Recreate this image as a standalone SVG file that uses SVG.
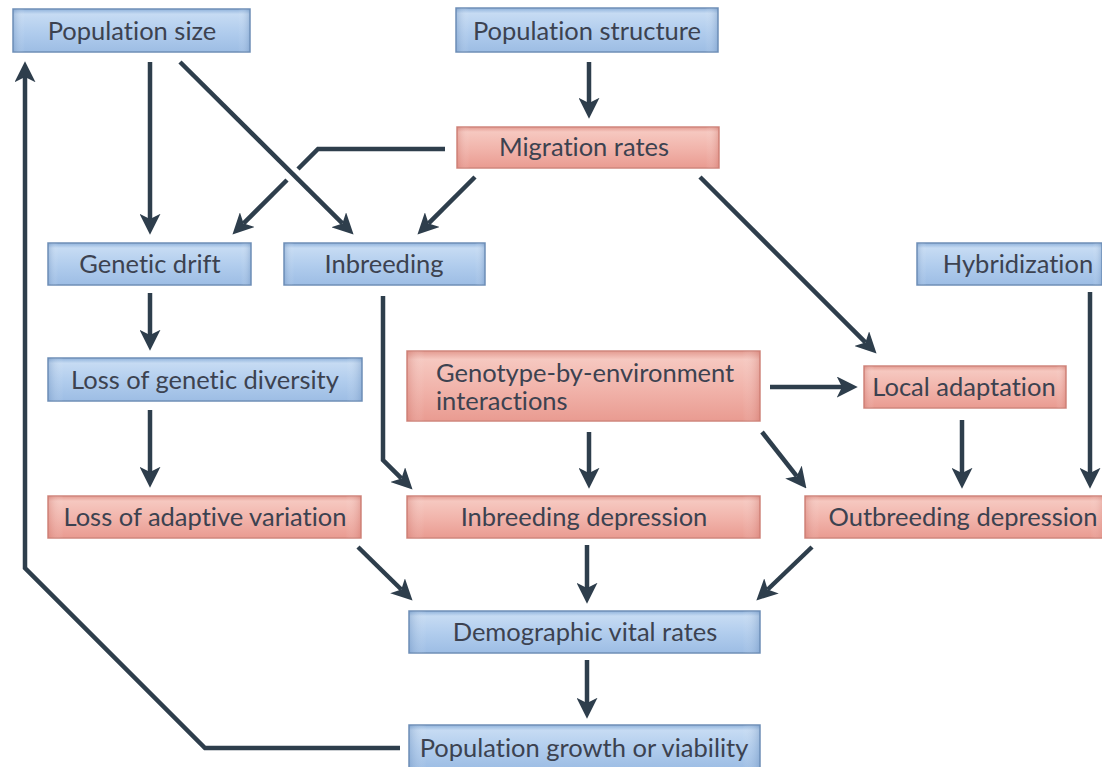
<svg xmlns="http://www.w3.org/2000/svg" width="1102" height="767" viewBox="0 0 1102 767">
<defs>
  <linearGradient id="gBlue" x1="0" y1="0" x2="0" y2="1">
    <stop offset="0" stop-color="#8fb2db"/>
    <stop offset="0.12" stop-color="#c6dbf3"/>
    <stop offset="0.55" stop-color="#b0cced"/>
    <stop offset="1" stop-color="#9dbde4"/>
  </linearGradient>
  <linearGradient id="gBlueH" x1="0" y1="0" x2="1" y2="0">
    <stop offset="0" stop-color="#5f85b5" stop-opacity="0.35"/>
    <stop offset="0.05" stop-color="#ffffff" stop-opacity="0"/>
    <stop offset="0.95" stop-color="#ffffff" stop-opacity="0"/>
    <stop offset="1" stop-color="#5f85b5" stop-opacity="0.35"/>
  </linearGradient>
  <linearGradient id="gPink" x1="0" y1="0" x2="0" y2="1">
    <stop offset="0" stop-color="#e39a90"/>
    <stop offset="0.12" stop-color="#f6c8c0"/>
    <stop offset="0.55" stop-color="#f1b3aa"/>
    <stop offset="1" stop-color="#e99b91"/>
  </linearGradient>
  <linearGradient id="gPinkH" x1="0" y1="0" x2="1" y2="0">
    <stop offset="0" stop-color="#c96a60" stop-opacity="0.35"/>
    <stop offset="0.05" stop-color="#ffffff" stop-opacity="0"/>
    <stop offset="0.95" stop-color="#ffffff" stop-opacity="0"/>
    <stop offset="1" stop-color="#c96a60" stop-opacity="0.35"/>
  </linearGradient>
  <marker id="ah" viewBox="0 0 20 20" markerWidth="21" markerHeight="21" markerUnits="userSpaceOnUse" refX="5" refY="10" orient="auto">
    <path d="M0,0 L20,10 L0,20 L5,10 z" fill="#2e3e4c"/>
  </marker>
</defs>
<style>
  .blue { fill: url(#gBlue); stroke: #6f8fb6; stroke-width: 1.5; }
  .blueH { fill: url(#gBlueH); stroke: none; }
  .pink { fill: url(#gPink); stroke: #cf877d; stroke-width: 1.5; }
  .pinkH { fill: url(#gPinkH); stroke: none; }
  text { font-family: Lato, "Open Sans", "Liberation Sans", sans-serif; font-size: 25.5px; fill: #3c4250; font-variant-ligatures: none; }
  .c { text-anchor: middle; }
  .ln { fill: none; stroke: #2e3e4c; stroke-width: 4.5; stroke-linejoin: miter; }
  .arr { marker-end: url(#ah); }
</style>
<rect width="1102" height="767" fill="#ffffff"/>

<g id="connectors">
  <path class="ln arr" d="M150,62 L150,219"/>
  <path class="ln" d="M445,149 L318,149 L298,169"/>
  <path class="ln arr" d="M287,180 L243.6,223.4"/>
  <path class="ln arr" d="M180,62 L342.4,223.4"/>
  <path class="ln arr" d="M589,62 L589,103"/>
  <path class="ln arr" d="M475,177 L428.6,223.4"/>
  <path class="ln arr" d="M700,177 L865.4,342.4"/>
  <path class="ln arr" d="M150,293 L150,335"/>
  <path class="ln arr" d="M150,410 L150,472"/>
  <path class="ln arr" d="M383,296 L383,460 L401.4,478.4"/>
  <path class="ln arr" d="M589,432 L589,473"/>
  <path class="ln arr" d="M762,432 L796.7,476.2"/>
  <path class="ln arr" d="M770,387 L842,387"/>
  <path class="ln arr" d="M962,420 L962,473"/>
  <path class="ln arr" d="M1090,292 L1090,473"/>
  <path class="ln arr" d="M358,547 L401.3,589.5"/>
  <path class="ln arr" d="M587,545 L587,588"/>
  <path class="ln arr" d="M812,547 L767.7,589.5"/>
  <path class="ln arr" d="M587,660 L587,703"/>
  <path class="ln arr" d="M400,748 L205,748 L25,568 L25,77"/>
</g>

<g id="n-popsize">
  <rect class="blue" x="13" y="9" width="237" height="43"/><rect class="blueH" x="13" y="9" width="237" height="43"/>
  <text class="c" x="132" y="40">Population size</text>
</g>
<g id="n-popstructure">
  <rect class="blue" x="456" y="8" width="262" height="44"/><rect class="blueH" x="456" y="8" width="262" height="44"/>
  <text class="c" x="587" y="40">Population structure</text>
</g>
<g id="n-migration">
  <rect class="pink" x="457" y="127" width="262" height="41"/><rect class="pinkH" x="457" y="127" width="262" height="41"/>
  <text class="c" x="584" y="156">Migration rates</text>
</g>
<g id="n-drift">
  <rect class="blue" x="48" y="243" width="203" height="42"/><rect class="blueH" x="48" y="243" width="203" height="42"/>
  <text class="c" x="150" y="273">Genetic drift</text>
</g>
<g id="n-inbreeding">
  <rect class="blue" x="284" y="243" width="201" height="42"/><rect class="blueH" x="284" y="243" width="201" height="42"/>
  <text class="c" x="384" y="273">Inbreeding</text>
</g>
<g id="n-hybridization">
  <rect class="blue" x="917" y="243" width="185" height="42"/><rect class="blueH" x="917" y="243" width="185" height="42"/>
  <text class="c" x="1018" y="273">Hybridization</text>
</g>
<g id="n-lossdiv">
  <rect class="blue" x="48" y="358" width="314" height="43"/><rect class="blueH" x="48" y="358" width="314" height="43"/>
  <text class="c" x="205" y="389">Loss of genetic diversity</text>
</g>
<g id="n-gxe">
  <rect class="pink" x="407" y="351" width="353" height="70"/><rect class="pinkH" x="407" y="351" width="353" height="70"/>
  <text x="436" y="382">Genotype-by-environment</text>
  <text x="436" y="410">interactions</text>
</g>
<g id="n-localadapt">
  <rect class="pink" x="864" y="366" width="202" height="42"/><rect class="pinkH" x="864" y="366" width="202" height="42"/>
  <text class="c" x="964" y="396">Local adaptation</text>
</g>
<g id="n-lossadapt">
  <rect class="pink" x="48" y="496" width="313" height="42"/><rect class="pinkH" x="48" y="496" width="313" height="42"/>
  <text class="c" x="205" y="526">Loss of adaptive variation</text>
</g>
<g id="n-inbdep">
  <rect class="pink" x="407" y="496" width="353" height="42"/><rect class="pinkH" x="407" y="496" width="353" height="42"/>
  <text class="c" x="584" y="526">Inbreeding depression</text>
</g>
<g id="n-outdep">
  <rect class="pink" x="805" y="496" width="300" height="42"/><rect class="pinkH" x="805" y="496" width="300" height="42"/>
  <text class="c" x="963" y="526">Outbreeding depression</text>
</g>
<g id="n-demographic">
  <rect class="blue" x="409" y="611" width="351" height="42"/><rect class="blueH" x="409" y="611" width="351" height="42"/>
  <text class="c" x="585" y="641">Demographic vital rates</text>
</g>
<g id="n-growth">
  <rect class="blue" x="409" y="725" width="351" height="44"/><rect class="blueH" x="409" y="725" width="351" height="44"/>
  <text class="c" x="584" y="757">Population growth or viability</text>
</g>
</svg>
